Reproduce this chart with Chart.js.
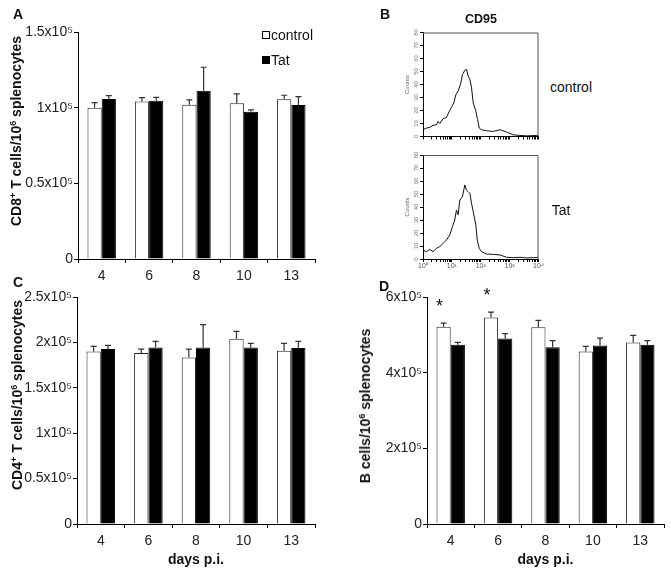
<!DOCTYPE html>
<html>
<head>
<meta charset="utf-8">
<script src="https://cdn.jsdelivr.net/npm/chart.js@4.4.0/dist/chart.umd.min.js"></script>
<style>
  body { margin: 0; background: #fff; }
  #fig { position: relative; width: 671px; height: 575px; overflow: hidden; font-family: "Liberation Sans", Arial, sans-serif; color: #111; }
  #fig canvas { position: absolute; }
  .c { position: absolute; white-space: nowrap; line-height: 1; transform: translate(-50%, -50%); }
  .panel { font-weight: bold; font-size: 14px; }
  .ytitle { position: absolute; white-space: nowrap; line-height: 1; font-weight: bold; font-size: 14px; transform: translate(-50%, -50%) rotate(-90deg); }
  .ytitle sup { font-size: 9px; vertical-align: 5px; line-height: 0; }
  .side { font-size: 14px; }
  #legendA { position: absolute; left: 262px; top: 23px; font-size: 14px; }
  #legendA div { height: 25px; line-height: 25px; white-space: nowrap; }
  #legendA .sw { display: inline-block; width: 6px; height: 6px; border: 1px solid #000; margin-right: 1px; vertical-align: 1px; }
</style>
</head>
<body>
<div id="fig">
  <canvas id="chartA" width="310" height="270" style="left:20px; top:20px;"></canvas>
  <canvas id="chartC" width="310" height="290" style="left:20px; top:285px;"></canvas>
  <canvas id="chartD" width="301" height="290" style="left:370px; top:285px;"></canvas>
  <canvas id="histControl" width="145" height="125" style="left:400px; top:20px;"></canvas>
  <canvas id="histTat" width="145" height="132" style="left:400px; top:143px;"></canvas>

  <div class="c panel" style="left:18px; top:14px;">A</div>
  <div class="c panel" style="left:385px; top:14px;">B</div>
  <div class="c panel" style="left:18px; top:282px;">C</div>
  <div class="c panel" style="left:384px; top:286px;">D</div>

  <div class="ytitle" style="left:16px; top:131px;">CD8<sup>+</sup> T cells/10<sup>6</sup> splenocytes</div>
  <div class="ytitle" style="left:17px; top:395px;">CD4<sup>+</sup> T cells/10<sup>6</sup> splenocytes</div>
  <div class="ytitle" style="left:365px; top:406px;">B cells/10<sup>6</sup> splenocytes</div>

  <div class="c" style="left:481px; top:19px; font-weight:bold; font-size:12.5px;">CD95</div>
  <div class="c side" style="left:571px; top:87px;">control</div>
  <div class="c side" style="left:561px; top:210px;">Tat</div>

  <div id="legendA"></div>
</div>

<script>
// ---- data ----
var days = ['4', '6', '8', '10', '13'];
var seriesNames = ['control', 'Tat'];

// A: CD8+ T cells per 10^6 splenocytes (mean, SEM)
var cd8Control = [100000, 104000, 102000, 103000, 105500];
var cd8ControlSem = [3300, 2600, 3200, 6100, 2700];
var cd8Tat = [105700, 104600, 111200, 97300, 101800];
var cd8TatSem = [2200, 2200, 15500, 1200, 5500];
var cd8Ticks = ['0', '0.5x10⁵', '1x10⁵', '1.5x10⁵'];

// C: CD4+ T cells per 10^6 splenocytes
var cd4Control = [190000, 188300, 183500, 204100, 190900];
var cd4ControlSem = [5600, 4400, 9200, 8000, 8000];
var cd4Tat = [192700, 194500, 194500, 194500, 193800];
var cd4TatSem = [4000, 6600, 25000, 4400, 7300];
var cd4Ticks = ['0', '0.5x10⁵', '1x10⁵', '1.5x10⁵', '2x10⁵', '2.5x10⁵'];

// D: B cells per 10^6 splenocytes
var bControl = [521500, 546000, 520000, 456000, 480000];
var bControlSem = [9500, 14000, 18000, 13500, 18500];
var bTat = [474000, 490000, 467000, 472000, 474000];
var bTatSem = [6000, 13000, 17500, 19500, 10500];
var bTicks = ['0', '2x10⁵', '4x10⁵', '6x10⁵'];
var bMarks = ['*', '*', '', '', ''];

// B: CD95 histograms (fluorescence, counts)
var cd95ControlFluor = [1, 1.31, 1.71, 2.23, 2.91, 3.33, 3.80, 4.97, 6.49, 8.02, 9.68, 11.7, 13.7, 16.5, 19.9, 23.3, 28.1, 32.1, 36.7, 42.0, 48.0, 54.8, 67.9, 77.6, 88.7, 107, 160, 272, 465, 793, 1349, 2301, 3926, 8750, 10000];
var cd95ControlCounts = [5.2, 6.5, 7, 8.5, 9, 11.6, 10, 13.7, 14.7, 19, 22.5, 25.8, 32, 35, 40, 47.7, 51, 51.6, 46.5, 44, 37.4, 25.8, 19.4, 13, 6.5, 5.2, 4.4, 3.9, 5.2, 3.4, 1.3, 0.8, 0.5, 0.8, 1];
var cd95TatFluor = [1, 1.31, 1.71, 2.23, 2.91, 3.80, 4.97, 6.49, 8.47, 10.5, 12.6, 14.4, 16.5, 18.8, 23.3, 28.1, 32.1, 36.7, 42.0, 48.0, 54.8, 67.9, 75.5, 88.7, 107, 160, 272, 465, 793, 1349, 2301, 3926, 6699, 10000];
var cd95TatCounts = [6.9, 5.6, 7.4, 5.6, 8.2, 9.5, 12, 14.6, 18.5, 25, 30, 37.7, 34, 45.4, 48, 57, 53, 51.8, 50.5, 42.8, 36.4, 26, 14.6, 8.2, 5.6, 3.8, 3.6, 3.1, 1.3, 1, 1.3, 0.8, 1, 1.3];
var decadeLabels = ['10⁰', '10¹', '10²', '10³', '10⁴'];

Chart.defaults.font.family = '"Liberation Sans", Arial, sans-serif';
Chart.defaults.color = '#222';

// error bars (upper only) drawn from each dataset's sem list
var errorBars = {
    id: 'errorBars',
    afterDatasetsDraw: function(chart) {
        var ctx = chart.ctx, y = chart.scales.y;
        ctx.save();
        ctx.strokeStyle = '#333';
        ctx.lineWidth = 1.2;
        chart.data.datasets.forEach(function(ds, i) {
            chart.getDatasetMeta(i).data.forEach(function(bar, j) {
                var top = y.getPixelForValue(ds.data[j] + ds.sem[j]);
                ctx.beginPath();
                ctx.moveTo(bar.x, bar.y);
                ctx.lineTo(bar.x, top);
                ctx.moveTo(bar.x - 3, top);
                ctx.lineTo(bar.x + 3, top);
                ctx.stroke();
            });
        });
        ctx.restore();
    }
};

// asterisks over the control bars of panel D
var significance = {
    id: 'significance',
    afterDatasetsDraw: function(chart) {
        var ctx = chart.ctx, y = chart.scales.y, ds = chart.data.datasets[0];
        ctx.save();
        ctx.font = '18px "Liberation Sans", Arial, sans-serif';
        ctx.fillStyle = '#111';
        ctx.textAlign = 'center';
        ctx.textBaseline = 'alphabetic';
        chart.getDatasetMeta(0).data.forEach(function(bar, j) {
            if (!bMarks[j]) return;
            var top = y.getPixelForValue(ds.data[j] + ds.sem[j]);
            ctx.fillText(bMarks[j], bar.x - 4, top - 11);
        });
        ctx.restore();
    }
};

// box around histogram plot area
var frame = {
    id: 'frame',
    afterDraw: function(chart) {
        var a = chart.chartArea, ctx = chart.ctx;
        ctx.save();
        ctx.strokeStyle = '#555';
        ctx.lineWidth = 1;
        ctx.beginPath();
        ctx.moveTo(a.left, a.top + 0.5);
        ctx.lineTo(a.right - 0.5, a.top + 0.5);
        ctx.lineTo(a.right - 0.5, a.bottom);
        ctx.stroke();
        ctx.restore();
    }
};

function barPanel(id, control, controlSem, tat, tatSem, tickLabels, max, step, yWidth, xHeight, padRight, showTitle, extra) {
    var plugins = [errorBars];
    if (extra) plugins.push(extra);
    return new Chart(document.getElementById(id), {
        type: 'bar',
        data: {
            labels: days,
            datasets: [
                { label: seriesNames[0], data: control, sem: controlSem, backgroundColor: '#ffffff', borderColor: '#222', borderWidth: 1 },
                { label: seriesNames[1], data: tat, sem: tatSem, backgroundColor: '#000000', borderColor: '#000', borderWidth: 1 }
            ]
        },
        options: {
            responsive: false,
            animation: false,
            devicePixelRatio: 1,
            layout: { padding: { top: 12, right: padRight, bottom: 0, left: 0 } },
            datasets: { bar: { categoryPercentage: 0.6, barPercentage: 1 } },
            plugins: { legend: { display: false }, tooltip: { enabled: false } },
            scales: {
                x: {
                    grid: { drawOnChartArea: false, offset: true, tickLength: 4, color: '#000' },
                    border: { color: '#000', width: 1 },
                    ticks: { font: { size: 14 }, padding: 5, color: '#222', maxRotation: 0 },
                    title: {
                        display: showTitle,
                        text: 'days p.i.',
                        color: '#111',
                        font: { size: 14, weight: 'bold' },
                        padding: { top: 0, bottom: 6 }
                    },
                    afterFit: function(s) { s.height = xHeight; }
                },
                y: {
                    min: 0,
                    max: max,
                    grid: { drawOnChartArea: false, tickLength: 4, color: '#000' },
                    border: { color: '#000', width: 1 },
                    ticks: {
                        stepSize: step,
                        font: { size: 14 },
                        padding: 1,
                        color: '#222',
                        callback: function(v, i) { return tickLabels[i]; }
                    },
                    afterFit: function(s) { s.width = yWidth; }
                }
            }
        },
        plugins: plugins
    });
}

function histPanel(id, fluor, counts, showLabels, xHeight, padTop) {
    var tickValues = [];
    for (var n = 0; n < 4; n++) {
        for (var k = 1; k < 10; k++) tickValues.push(k * Math.pow(10, n));
    }
    tickValues.push(10000);
    return new Chart(document.getElementById(id), {
        type: 'scatter',
        data: {
            datasets: [{
                data: fluor.map(function(x, i) { return { x: x, y: counts[i] }; }),
                showLine: true,
                borderColor: '#111',
                borderWidth: 1,
                pointRadius: 0,
                tension: 0
            }]
        },
        options: {
            responsive: false,
            animation: false,
            devicePixelRatio: 1,
            layout: { padding: { top: padTop, right: 6.5, bottom: 0, left: 0 } },
            plugins: { legend: { display: false }, tooltip: { enabled: false } },
            scales: {
                x: {
                    type: 'logarithmic',
                    min: 1,
                    max: 10000,
                    afterBuildTicks: function(s) {
                        s.ticks = tickValues.map(function(v) { return { value: v }; });
                    },
                    grid: { drawOnChartArea: false, tickLength: 3, color: '#000' },
                    border: { color: '#000', width: 1 },
                    ticks: {
                        autoSkip: false,
                        minRotation: 0,
                        maxRotation: 0,
                        font: { size: 7 },
                        color: '#555',
                        padding: 0,
                        callback: function(v) {
                            if (!showLabels) return '';
                            var e = Math.log10(v), n = Math.round(e);
                            return Math.abs(e - n) < 1e-9 ? decadeLabels[n] : '';
                        }
                    },
                    afterFit: function(s) { s.height = xHeight; }
                },
                y: {
                    min: 0,
                    max: 80,
                    grid: { drawOnChartArea: false, tickLength: 3, color: '#000' },
                    border: { color: '#000', width: 1 },
                    ticks: {
                        stepSize: 10,
                        font: { size: 6 },
                        color: '#777',
                        padding: 0,
                        minRotation: 90,
                        maxRotation: 90,
                        crossAlign: 'center'
                    },
                    title: {
                        display: true,
                        text: 'Counts',
                        color: '#666',
                        font: { size: 6 },
                        padding: { top: 4, bottom: 0 }
                    },
                    afterFit: function(s) { s.width = 23; }
                }
            }
        },
        plugins: [frame]
    });
}

document.addEventListener('DOMContentLoaded', function() {
    // legend for panel A
    var legend = document.getElementById('legendA');
    seriesNames.forEach(function(name, i) {
        var row = document.createElement('div');
        var sw = document.createElement('span');
        sw.className = 'sw';
        sw.style.background = i === 0 ? '#fff' : '#000';
        row.appendChild(sw);
        row.appendChild(document.createTextNode(name));
        legend.appendChild(row);
    });

    barPanel('chartA', cd8Control, cd8ControlSem, cd8Tat, cd8TatSem, cd8Ticks, 150000, 50000, 58, 31, 15, false, null);
    barPanel('chartC', cd4Control, cd4ControlSem, cd4Tat, cd4TatSem, cd4Ticks, 250000, 50000, 57, 51, 15, true, null);
    barPanel('chartD', bControl, bControlSem, bTat, bTatSem, bTicks, 600000, 200000, 57, 51, 7, true, significance);

    histPanel('histControl', cd95ControlFluor, cd95ControlCounts, false, 8.5, 12.5);
    histPanel('histTat', cd95TatFluor, cd95TatCounts, true, 16, 12);
});
</script>
</body>
</html>
